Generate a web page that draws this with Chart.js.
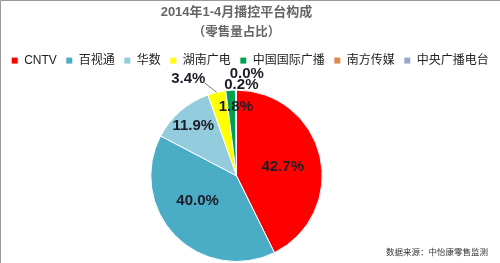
<!DOCTYPE html>
<html>
<head>
<meta charset="utf-8">
<script src="https://cdn.jsdelivr.net/npm/chart.js@4/dist/chart.umd.min.js"></script>
<style>
  html, body { margin: 0; padding: 0; background: #fff; }
  #box { width: 500px; height: 263px; position: relative; }
</style>
</head>
<body>
<div id="box"><canvas id="myChart" width="500" height="263"></canvas></div>
<script>
// datos del grafico (sacados de la imagen)
var categorias = ["CNTV", "百视通", "华数", "湖南广电", "中国国际广播", "南方传媒", "中央广播电台"];
var valores = [42.7, 40.0, 11.9, 3.4, 1.8, 0.2, 0.0];
var colores = ["#ff0000", "#4bacc6", "#93cddd", "#ffff00", "#00a050", "#e0894a", "#95a8c6"];
var titulo = "2014年1-4月播控平台构成";
var subtitulo = "（零售量占比）";
var fuente = "数据来源：中怡康零售监测";

var FUENTE_CN = "'Liberation Sans', Arial, 'Noto Sans CJK SC', sans-serif";

// fondo blanco + borde gris arriba/izquierda
var fondo = {
    id: "fondo",
    beforeDraw: function(chart){
        var ctx = chart.ctx;
        ctx.save();
        ctx.fillStyle = "#fff";
        ctx.fillRect(0, 0, chart.width, chart.height);
        ctx.strokeStyle = "#9a9a9a";
        ctx.lineWidth = 1;
        ctx.beginPath();
        ctx.moveTo(0.5, chart.height);
        ctx.lineTo(0.5, 0.5);
        ctx.lineTo(chart.width, 0.5);
        ctx.stroke();
        ctx.restore();
    }
};

// leyenda en una sola fila a todo el ancho + espacio extra debajo
var margenLeyenda = {
    id: "margenLeyenda",
    beforeInit: function(chart){
        var fitOriginal = chart.legend.fit;
        chart.legend.fit = function(){
            this.maxWidth = chart.width;
            fitOriginal.bind(chart.legend)();
            this.height += 13;
        };
    },
    afterLayout: function(chart){
        chart.legend.left = 0;
        chart.legend.right = chart.width;
        chart.legend.width = chart.width;
    }
};

// etiquetas de porcentaje
var etiquetas = {
    id: "etiquetas",
    afterDatasetsDraw: function(chart, args, opts){
        var ctx = chart.ctx;
        var meta = chart.getDatasetMeta(0);
        ctx.save();
        ctx.font = "bold 15px " + FUENTE_CN;
        ctx.fillStyle = "#1c1c28";
        ctx.textAlign = "center";
        ctx.textBaseline = "middle";
        meta.data.forEach(function(arc, i){
            var p = arc.getProps(["x", "y", "startAngle", "endAngle", "outerRadius"], true);
            var medio = (p.startAngle + p.endAngle) / 2;
            var ang = medio + (opts.giro[i] || 0);
            var r = p.outerRadius * opts.radio[i];
            var tx = p.x + Math.cos(ang) * r;
            var ty = p.y + Math.sin(ang) * r;
            var txt = valores[i].toFixed(1) + "%";
            if (opts.linea[i]) {
                // linea guia desde el borde del sector
                var x1 = p.x + Math.cos(medio) * p.outerRadius;
                var y1 = p.y + Math.sin(medio) * p.outerRadius;
                ctx.strokeStyle = "#555";
                ctx.lineWidth = 0.8;
                ctx.beginPath();
                ctx.moveTo(x1, y1);
                ctx.lineTo(tx, ty);
                ctx.stroke();
                ctx.textAlign = "right";
                ctx.fillText(txt, tx + 1, ty - 4);
                ctx.textAlign = "center";
            } else {
                ctx.fillText(txt, tx, ty);
            }
        });
        // fuente de datos
        ctx.font = "8.5px " + FUENTE_CN;
        ctx.fillStyle = "#333";
        ctx.textAlign = "right";
        ctx.fillText(fuente, 488, 253);
        ctx.restore();
    }
};

var ctx = document.getElementById("myChart");
var myPie = new Chart(ctx, {
    type: "pie",
    data: {
        labels: categorias,
        datasets: [{
            data: valores,
            backgroundColor: colores,
            borderColor: "#ffffff",
            borderWidth: 1
        }]
    },
    options: {
        responsive: false,
        animation: false,
        layout: { padding: { left: 0, right: 27, top: 0, bottom: 1 } },
        plugins: {
            title: {
                display: true,
                text: titulo,
                color: "#666",
                font: { family: FUENTE_CN, size: 13, weight: "bold" },
                padding: { top: 5, bottom: 4 }
            },
            subtitle: {
                display: true,
                text: subtitulo,
                color: "#666",
                font: { family: FUENTE_CN, size: 12.5, weight: "bold" },
                padding: { top: 0, bottom: 6 }
            },
            legend: {
                position: "top",
                labels: {
                    color: "#222",
                    font: { family: FUENTE_CN, size: 12 },
                    boxWidth: 7,
                    boxHeight: 7,
                    padding: 9
                }
            },
            tooltip: { enabled: false },
            etiquetas: {
                radio: [0.55, 0.54, 0.77, 1.15, 0.8, 1.06, 1.2],
                giro: [0.03, 0.2, 0, -0.1, 0.06, 0.06, 0.1],
                linea: [false, false, false, true, false, false, false]
            }
        }
    },
    plugins: [fondo, margenLeyenda, etiquetas]
});
</script>
</body>
</html>
